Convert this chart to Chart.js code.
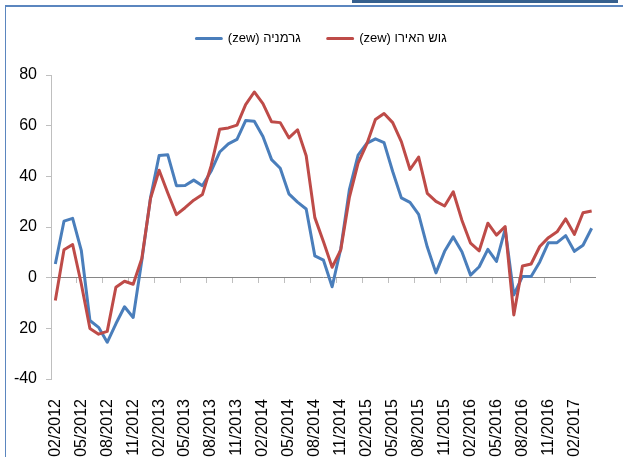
<!DOCTYPE html>
<html>
<head>
<meta charset="utf-8">
<script src="https://cdn.jsdelivr.net/npm/chart.js@4"></script>
<style>
  html, body { margin: 0; padding: 0; background: #fff; }
  #wrap { position: relative; width: 623px; height: 457px; overflow: hidden; }
  #frameTop { position: absolute; left: 5px; top: 5px; right: 0; height: 2px; background: #5b86bf; }
  #frameLeft { position: absolute; left: 5px; top: 5px; bottom: 0; width: 1px; background: #5b86bf; }
  #bar { position: absolute; left: 352px; top: 0; width: 266px; height: 3px; background: #36608e; }
  canvas { position: absolute; left: 0; top: 0; }
</style>
</head>
<body>
<div id="wrap">
  <div id="frameTop"></div>
  <div id="frameLeft"></div>
  <div id="bar"></div>
  <canvas id="zew" width="623" height="457"></canvas>
</div>
<script>
// months, Feb 2012 .. Apr 2017
const months = [
  "02/2012", "03/2012", "04/2012", "05/2012", "06/2012", "07/2012", "08/2012", "09/2012", "10/2012", "11/2012", "12/2012",
  "01/2013", "02/2013", "03/2013", "04/2013", "05/2013", "06/2013", "07/2013", "08/2013", "09/2013", "10/2013", "11/2013", "12/2013",
  "01/2014", "02/2014", "03/2014", "04/2014", "05/2014", "06/2014", "07/2014", "08/2014", "09/2014", "10/2014", "11/2014", "12/2014",
  "01/2015", "02/2015", "03/2015", "04/2015", "05/2015", "06/2015", "07/2015", "08/2015", "09/2015", "10/2015", "11/2015", "12/2015",
  "01/2016", "02/2016", "03/2016", "04/2016", "05/2016", "06/2016", "07/2016", "08/2016", "09/2016", "10/2016", "11/2016", "12/2016",
  "01/2017", "02/2017", "03/2017", "04/2017"
];

const germany = [
  5.4, 22.3, 23.4, 10.8, -16.9, -19.6, -25.5, -18.2, -11.5, -15.7, 6.9,
  31.5, 48.2, 48.5, 36.3, 36.4, 38.5, 36.3, 42.0, 49.6, 52.8, 54.6, 62.0,
  61.7, 55.7, 46.6, 43.2, 33.1, 29.8, 27.1, 8.6, 6.9, -3.6, 11.5, 34.9,
  48.4, 53.0, 54.8, 53.3, 41.9, 31.5, 29.7, 25.0, 12.1, 1.9, 10.4, 16.1,
  10.2, 1.0, 4.3, 11.2, 6.4, 19.2, -6.8, 0.5, 0.5, 6.2, 13.8, 13.8,
  16.6, 10.4, 12.8, 19.5
];

const euroArea = [
  -9.0, 11.0, 13.1, -2.4, -20.1, -22.3, -21.2, -3.8, -1.4, -2.6, 7.6,
  31.2, 42.4, 33.4, 24.9, 27.6, 30.6, 32.8, 44.0, 58.6, 59.1, 60.2, 68.3,
  73.3, 68.7, 61.5, 61.2, 55.2, 58.4, 48.1, 23.7, 14.2, 4.1, 11.0, 31.8,
  45.2, 52.7, 62.4, 64.8, 61.2, 53.7, 42.7, 47.6, 33.3, 30.1, 28.3, 33.9,
  22.7, 13.6, 10.6, 21.5, 16.8, 20.2, -14.7, 4.6, 5.4, 12.3, 15.8, 18.1,
  23.2, 17.1, 25.6, 26.3
];

const seriesNames = ["(zew) גרמניה", "(zew) גוש האירו"];
const yTicks = { min: -40, max: 80, step: 20 };

// extra room under the legend, and nudge it right like the original
const legendGap = {
  id: "legendGap",
  beforeInit(chart) {
    const fit = chart.legend.fit;
    chart.legend.fit = function () {
      fit.bind(chart.legend)();
      this.height += 20;
    };
  },
  afterLayout(chart) {
    chart.legend.left += 19;
    chart.legend.right += 19;
  }
};

new Chart(document.getElementById("zew"), {
  type: "line",
  data: {
    labels: months,
    datasets: [
      {
        label: seriesNames[0],
        data: germany,
        borderColor: "#4a7ebb",
        backgroundColor: "#4a7ebb",
        borderWidth: 3,
        pointRadius: 0,
        tension: 0,
        borderJoinStyle: "round",
        order: 1
      },
      {
        label: seriesNames[1],
        data: euroArea,
        borderColor: "#be4b48",
        backgroundColor: "#be4b48",
        borderWidth: 3,
        pointRadius: 0,
        tension: 0,
        borderJoinStyle: "round",
        order: 0
      }
    ]
  },
  options: {
    responsive: false,
    animation: false,
    devicePixelRatio: 1,
    layout: { padding: { top: 5, right: 18, left: 0, bottom: 0 } },
    plugins: {
      tooltip: { enabled: false },
      legend: {
        position: "top",
        labels: {
          boxWidth: 25,
          boxHeight: 0,
          padding: 27,
          color: "#000",
          font: { family: "'Liberation Sans', Arial", size: 13 },
          sort: (a, b) => a.datasetIndex - b.datasetIndex
        }
      }
    },
    scales: {
      x: {
        type: "category",
        offset: true,
        grid: { display: false },
        border: { display: false },
        ticks: {
          autoSkip: false,
          minRotation: 90,
          maxRotation: 90,
          padding: 12,
          color: "#000",
          font: { family: "'Liberation Sans', Arial", size: 16 },
          callback: (v, i) => (i % 3 === 0 ? months[i] : "")
        },
        afterFit: (s) => { s.height = 78; }
      },
      x2: {
        type: "category",
        offset: true,
        position: { y: 0 },
        grid: {
          offset: true,
          drawOnChartArea: false,
          tickLength: 5,
          color: (c) => (c.index % 3 === 0 ? "#bfbfbf" : "transparent")
        },
        border: { color: "#868686" },
        ticks: { display: false, autoSkip: false }
      },
      y: {
        min: yTicks.min,
        max: yTicks.max,
        ticks: {
          stepSize: yTicks.step,
          padding: 9,
          color: "#000",
          font: { family: "'Liberation Sans Narrow', 'Liberation Sans', Arial", size: 16 },
          callback: (v) => (v === -20 ? "20" : v)
        },
        grid: { drawOnChartArea: false, tickLength: 5, color: "#bfbfbf" },
        border: { color: "#bfbfbf" },
        afterFit: (s) => { s.width = 51; }
      }
    }
  },
  plugins: [legendGap]
});
</script>
</body>
</html>
